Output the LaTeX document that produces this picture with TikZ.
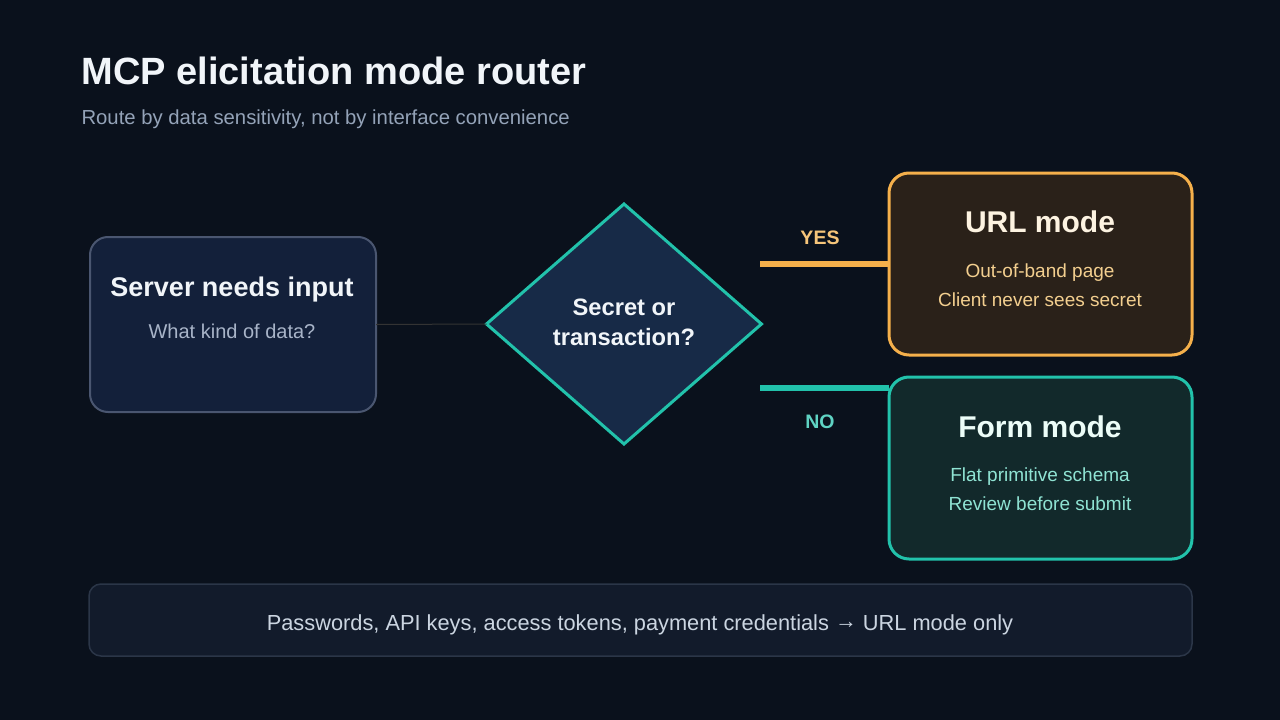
\documentclass[tikz,border=0pt]{standalone}
\usepackage{fontspec}
\setmainfont{Liberation Sans}
\usepackage{tikz}
\usetikzlibrary{shapes.geometric}

\definecolor{bgdark}{HTML}{0A111C}
\definecolor{slateline}{HTML}{4A5670}
\definecolor{slatefill}{HTML}{13203A}
\definecolor{amberline}{HTML}{F5B04B}
\definecolor{amberfill}{HTML}{2A2119}
\definecolor{tealline}{HTML}{22C2AB}
\definecolor{tealfill}{HTML}{12292B}
\definecolor{navyfill}{HTML}{172A47}
\definecolor{notefill}{HTML}{121B2B}
\definecolor{noteline}{HTML}{2B3648}
\definecolor{titletext}{HTML}{F1F5F9}
\definecolor{subtext}{HTML}{94A3B8}
\definecolor{srctext}{HTML}{A8B4C8}
\definecolor{urlhead}{HTML}{FDF3E1}
\definecolor{urltext}{HTML}{F3CF8F}
\definecolor{formhead}{HTML}{ECFDF8}
\definecolor{formtext}{HTML}{8FE3D3}
\definecolor{notetext}{HTML}{CBD5E1}
\definecolor{yestext}{HTML}{F6C57A}
\definecolor{notext}{HTML}{5FD3C3}

\begin{document}
\begin{tikzpicture}[x=1pt,y=-1pt,
    card/.style={rounded corners=18pt,inner sep=0pt,outer sep=0pt,anchor=north west},
    head/.style={font=\bfseries\fontsize{27}{30}\selectfont,text=titletext},
    body/.style={font=\fontsize{19}{22}\selectfont},
    branch/.style={font=\bfseries\fontsize{19.5}{22}\selectfont}]
    \fill[bgdark] (0,0) rectangle (1280,720);
    \useasboundingbox (0,0) rectangle (1280,720);

    % title
    \node[anchor=west,font=\bfseries\fontsize{38}{44}\selectfont,text=titletext] (title) at (78,71) {MCP elicitation mode router};
    \node[anchor=west,font=\fontsize{20.3}{24}\selectfont,text=subtext] (subtitle) at (78,119) {Route by data sensitivity, not by interface convenience};

    % boxes
    \node[card,draw=slateline,line width=2pt,fill=slatefill,minimum width=286pt,minimum height=175pt] (src) at (90,237) {};
    \node[card,draw=amberline,line width=3pt,fill=amberfill,minimum width=303pt,minimum height=182pt,rounded corners=20pt] (url) at (889,173) {};
    \node[card,draw=tealline,line width=3pt,fill=tealfill,minimum width=303pt,minimum height=182pt,rounded corners=20pt] (form) at (889,377) {};
    \node[diamond,draw=tealline,line width=3pt,fill=navyfill,minimum width=275pt,minimum height=240pt,inner sep=0pt,outer sep=0pt] (dec) at (624,324) {};
    \node[card,draw=noteline,line width=1.5pt,fill=notefill,minimum width=1103pt,minimum height=72pt,rounded corners=12pt] (note) at (89,584) {};

    % texts
    \node[head] (srchead) at (232,290) {Server needs input};
    \node[body,font=\fontsize{20}{22}\selectfont,text=srctext] (srcbody) at (232,331) {What kind of data?};
    \node[head,align=center,font=\bfseries\fontsize{23.7}{30}\selectfont] (dectext) at (624,322) {Secret or\\transaction?};
    \node[head,font=\bfseries\fontsize{30}{34}\selectfont,text=urlhead] (urlhead) at (1040,222) {URL mode};
    \node[body,text=urltext,align=center] (urlbody) at (1040,285) {Out-of-band page\\[7pt]Client never sees secret};
    \node[head,font=\bfseries\fontsize{30}{34}\selectfont,text=formhead] (formhead) at (1040,427) {Form mode};
    \node[body,text=formtext,align=center] (formbody) at (1040,489) {Flat primitive schema\\[7pt]Review before submit};
    \node[font=\fontsize{21.8}{24}\selectfont,text=notetext] (notetext) at (640,625) {Passwords, API keys, access tokens, payment credentials \raisebox{2pt}{→} URL mode only};

    % connectors
    \coordinate (yesstart) at (760,264);
    \coordinate (nostart) at (760,388);
    \draw[line width=1pt,black!80] (src.east) -- (dec.west);
    \draw[line width=6pt,amberline] (yesstart) -- (yesstart -| url.west);
    \draw[line width=6pt,tealline] (nostart) -- (nostart -| form.west);
    \node[branch,text=yestext] (yes) at (820,238) {YES};
    \node[branch,text=notext] (no) at (820,422) {NO};
\end{tikzpicture}
\end{document}
